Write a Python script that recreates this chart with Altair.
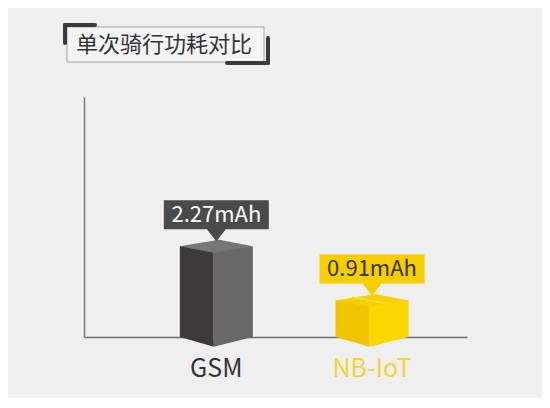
import altair as alt
import pandas as pd

# ---- data ----
categories = ["GSM", "NB-IoT"]
values = [2.27, 0.91]
unit = "mAh"
title_text = "单次骑行功耗对比"

df = pd.DataFrame({"category": categories, "value": values})

FONT = "Noto Sans CJK SC"
BG = "#efefef"


def by_cat(gsm_col, nb_col):
    return alt.condition("datum.category === 'GSM'", alt.value(gsm_col), alt.value(nb_col))


x_enc = alt.X(
    "category:N",
    sort=categories,
    scale=alt.Scale(paddingInner=0.5, paddingOuter=0.48, align=0.625),
    axis=alt.Axis(
        title=None, ticks=False, labelAngle=0, labelFont=FONT, labelFontSize=25,
        labelPadding=19,
        labelColor={"expr": "datum.value === 'NB-IoT' ? '#f1d43b' : '#333333'"},
        domainColor="#6e6e6e", domainWidth=1.5,
    ),
)
y_axis = alt.Axis(title=None, ticks=False, labels=False, grid=False,
                  domainColor="#7a7a7a", domainWidth=1.5)
y_enc = alt.Y(
    "value:Q",
    scale=alt.Scale(domain=[0, 6], nice=False, zero=True),
    axis=y_axis,
)
y_base = alt.Y("base:Q", scale=alt.Scale(domain=[0, 6], nice=False, zero=True), axis=y_axis)

base = alt.Chart(df).transform_calculate(
    label=f"format(datum.value, '.2f') + '{unit}'", base="0"
)

box_size = 73 * 73

left_face = base.mark_bar(width=34, xOffset=-19.5).encode(
    x=x_enc, y=y_enc, fill=by_cat("#3c3a3b", "#f0c400")
)
right_face = base.mark_bar(width=40, xOffset=16.5).encode(
    x=x_enc, y=y_enc, fill=by_cat("#686868", "#fbd600")
)

bottom_left = base.mark_point(
    shape="M-1,0 L-0.068,0 L-0.068,0.27 Z", size=box_size, filled=True, opacity=1, strokeWidth=0
).encode(x=x_enc, y=y_base, fill=by_cat("#3c3a3b", "#f0c400"))

bottom_right = base.mark_point(
    shape="M-0.1,0 L1,0 L-0.068,0.27 Z", size=box_size, filled=True, opacity=1, strokeWidth=0
).encode(x=x_enc, y=y_base, fill=by_cat("#686868", "#fbd600"))

top_face = base.mark_point(
    shape="M-1,0 L0.068,-0.18 L1,0 L-0.068,0.18 Z", size=box_size, filled=True, opacity=1, strokeWidth=0
).encode(x=x_enc, y=y_enc, fill=by_cat("#767676", "#f7d000"))

seam = base.transform_filter("datum.category === 'NB-IoT'").mark_point(
    shape="M-0.5,-0.09 L0.45,0.09", size=box_size, filled=False, opacity=1,
    stroke="#ffe259", strokeWidth=1.2,
).encode(x=x_enc, y=y_enc)

callout = base.mark_point(
    shape="M-1,-0.276 L1,-0.276 L1,0.276 L0.18,0.276 L0,0.505 L-0.18,0.276 L-1,0.276 Z",
    size=105 * 105, filled=True, opacity=1, strokeWidth=0, yOffset=-31.5,
).encode(x=x_enc, y=y_enc, fill=by_cat("#4a4a4a", "#f6ce00"))

callout_text = base.mark_text(
    font=FONT, fontSize=22, baseline="middle", align="center", yOffset=-31.5
).encode(x=x_enc, y=y_enc, text="label:N", fill=by_cat("#ffffff", "#333333"))

one = alt.Data(values=[{}])
frame = alt.Chart(one).mark_rect(fill="#f4f4f4", stroke="#a3a3a3", strokeWidth=1).encode(
    x=alt.value(-17), x2=alt.value(180), y=alt.value(-70), y2=alt.value(-35)
)
br_style = dict(color="#3a3a3a", strokeWidth=4, strokeCap="round")
tl_h = alt.Chart(one).mark_rule(**br_style).encode(
    x=alt.value(-19), x2=alt.value(11), y=alt.value(-72), y2=alt.value(-72))
tl_v = alt.Chart(one).mark_rule(**br_style).encode(
    x=alt.value(-19), x2=alt.value(-19), y=alt.value(-72), y2=alt.value(-54))
br_h = alt.Chart(one).mark_rule(**br_style).encode(
    x=alt.value(143), x2=alt.value(184), y=alt.value(-34), y2=alt.value(-34))
br_v = alt.Chart(one).mark_rule(**br_style).encode(
    x=alt.value(184), x2=alt.value(184), y=alt.value(-59), y2=alt.value(-34))
title = alt.Chart(one).mark_text(
    font=FONT, fontSize=22, color="#333333", align="center", baseline="middle"
).encode(x=alt.value(80), y=alt.value(-52), text=alt.value(title_text))

chart = alt.layer(
    left_face, right_face, bottom_left, bottom_right, top_face, seam,
    callout, callout_text,
    frame, tl_h, tl_v, br_h, br_v, title,
).properties(
    width=383, height=240,
    padding={"left": 76, "top": 89, "right": 75, "bottom": 61},
    autosize=alt.AutoSizeParams(type="none"),
    background=BG,
).configure_view(stroke=None)

chart.save("out.html", embed_options={"renderer": "svg", "actions": False})
